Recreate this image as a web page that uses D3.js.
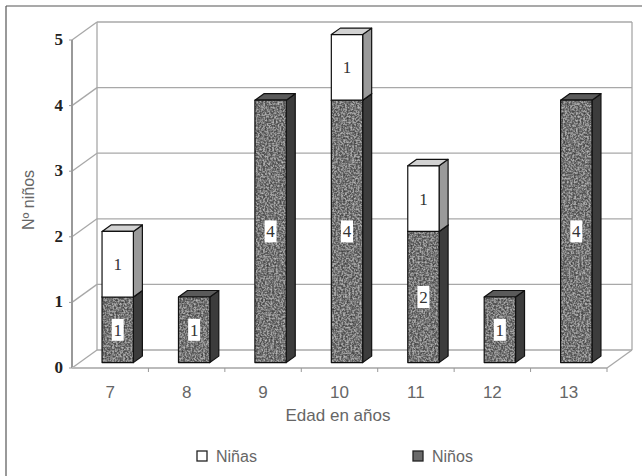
<!DOCTYPE html>
<html>
<head>
<meta charset="utf-8">
<script src="https://cdn.jsdelivr.net/npm/d3@7"></script>
<style>
  html, body { margin: 0; padding: 0; background: #fff; }
  svg { display: block; }
</style>
</head>
<body>
<svg id="chart" width="642" height="476"></svg>
<script>
// Ages (categories) and counts per group
const ages = ["7", "8", "9", "10", "11", "12", "13"];
const ninos = [1, 1, 4, 4, 2, 1, 4];
const ninas = [1, 0, 0, 1, 1, 0, 0];
const yTicks = [0, 1, 2, 3, 4, 5];
const seriesNames = ["Niñas", "Niños"];

const svg = d3.select("#chart");
const W = 642, H = 476;

// Front plane of the 3D box
const x = d3.scaleBand().domain(ages).range([72, 607]).padding(0);
const y = d3.scaleLinear().domain([0, 5]).range([368, 40]);
// Depth vector of the box (front -> back)
const DX = 25, DY = -18;

const defs = svg.append("defs");
// soft grainy texture for the dark bars
const f = defs.append("filter").attr("id", "grain").attr("x", 0).attr("y", 0).attr("width", 1).attr("height", 1)
  .attr("color-interpolation-filters", "sRGB");
f.append("feTurbulence").attr("type", "fractalNoise").attr("baseFrequency", 0.55).attr("numOctaves", 2).attr("seed", 3).attr("result", "noise");
f.append("feColorMatrix").attr("in", "noise").attr("type", "matrix")
  .attr("values", "0 0 0 0 0  0 0 0 0 0  0 0 0 0 0  1.1 0 0 0 -0.4").attr("result", "dark");
f.append("feColorMatrix").attr("in", "noise").attr("type", "matrix")
  .attr("values", "0 0 0 0 1  0 0 0 0 1  0 0 0 0 1  -1.1 0 0 0 0.62").attr("result", "light");
f.append("feComposite").attr("in", "dark").attr("in2", "SourceGraphic").attr("operator", "in").attr("result", "darkIn");
f.append("feComposite").attr("in", "light").attr("in2", "SourceGraphic").attr("operator", "in").attr("result", "lightIn");
f.append("feMerge").attr("result", "merged").selectAll("feMergeNode").data(["SourceGraphic", "darkIn", "lightIn"]).join("feMergeNode").attr("in", d => d);
f.append("feGaussianBlur").attr("in", "merged").attr("stdDeviation", 0.35);

// Outer frame (top and left edges)
svg.append("line").attr("x1", 6).attr("y1", 6).attr("x2", W).attr("y2", 6).attr("stroke", "#555").attr("stroke-width", 1.2);
svg.append("line").attr("x1", 6).attr("y1", 6).attr("x2", 6).attr("y2", H).attr("stroke", "#555").attr("stroke-width", 1.2);

const gridColor = "#a8a8a8";
const x0 = x.range()[0], x1 = x.range()[1];
const grid = svg.append("g").attr("stroke", gridColor).attr("stroke-width", 1.3).attr("fill", "none");

// Back wall horizontal gridlines and left wall diagonals
yTicks.forEach(t => {
  grid.append("line").attr("x1", x0 + DX).attr("x2", x1 + DX).attr("y1", y(t) + DY).attr("y2", y(t) + DY);
  grid.append("line").attr("x1", x0).attr("y1", y(t)).attr("x2", x0 + DX).attr("y2", y(t) + DY);
});
// Back corners
grid.append("line").attr("x1", x0 + DX).attr("x2", x0 + DX).attr("y1", y(5) + DY).attr("y2", y(0) + DY);
grid.append("line").attr("x1", x1 + DX).attr("x2", x1 + DX).attr("y1", y(5) + DY).attr("y2", y(0) + DY);
// Floor right edge
grid.append("line").attr("x1", x1).attr("y1", y(0)).attr("x2", x1 + DX).attr("y2", y(0) + DY);

// Front axes
svg.append("line").attr("x1", x0).attr("x2", x0).attr("y1", y(5)).attr("y2", y(0))
  .attr("stroke", "#999").attr("stroke-width", 2);
svg.append("line").attr("x1", x0).attr("x2", x1).attr("y1", y(0)).attr("y2", y(0))
  .attr("stroke", "#bbb").attr("stroke-width", 2);
// category boundary ticks
ages.forEach(a => {
  const xt = x(a) + x.bandwidth();
  svg.append("line").attr("x1", xt).attr("x2", xt).attr("y1", y(0)).attr("y2", y(0) + 4)
    .attr("stroke", "#999").attr("stroke-width", 1);
});
yTicks.forEach(t => {
  svg.append("line").attr("x1", x0 - 3).attr("x2", x0).attr("y1", y(t)).attr("y2", y(t))
    .attr("stroke", "#999").attr("stroke-width", 1);
});

// Y tick labels
svg.append("g").selectAll("text").data(yTicks).join("text")
  .attr("x", 63).attr("y", d => y(d) + 5)
  .attr("text-anchor", "end")
  .attr("font-family", "Liberation Serif, Times New Roman, serif")
  .attr("font-weight", "bold").attr("font-size", 17).attr("fill", "#222")
  .text(d => d);

// X category labels
svg.append("g").selectAll("text").data(ages).join("text")
  .attr("x", d => x(d) + x.bandwidth() / 2).attr("y", 398)
  .attr("text-anchor", "middle")
  .attr("font-family", "Liberation Sans, Arial, sans-serif")
  .attr("font-size", 17).attr("fill", "#666")
  .text(d => d);

// Axis titles
svg.append("text").attr("x", 338).attr("y", 421).attr("text-anchor", "middle")
  .attr("font-family", "Liberation Sans, Arial, sans-serif").attr("font-size", 17).attr("fill", "#666")
  .text("Edad en años");
svg.append("text").attr("transform", "translate(34,200) rotate(-90)").attr("text-anchor", "middle")
  .attr("font-family", "Liberation Sans, Arial, sans-serif").attr("font-size", 16).attr("fill", "#666")
  .text("Nº niños");

// Bars: stacked boxes (Niños below, Niñas on top)
const styles = {
  "Niños": { front: "#808080", side: "#3c3c3c", top: "#5a5a5a", grain: true },
  "Niñas": { front: "#ffffff", side: "#9a9a9a", top: "#d2d2d2", grain: false }
};
const bw = x.bandwidth() * 0.41;
const f0 = 0.3, fd = 0.36;           // position and thickness of bars in depth
const ox = DX * f0, oy = DY * f0;    // shift of bar front from the axis plane
const ddx = DX * fd, ddy = DY * fd;  // bar depth vector

const segments = [];
ages.forEach((a, i) => {
  segments.push({ age: a, name: "Niños", y0: 0, y1: ninos[i], v: ninos[i] });
  segments.push({ age: a, name: "Niñas", y0: ninos[i], y1: ninos[i] + ninas[i], v: ninas[i] });
});

const bars = svg.append("g");
segments.filter(s => s.v > 0).forEach(s => {
  const st = styles[s.name];
  const cx = x(s.age) + x.bandwidth() / 2 + ox;
  const L = cx - bw / 2, R = cx + bw / 2;
  const T = y(s.y1) + oy, B = y(s.y0) + oy;
  const g = bars.append("g").attr("stroke", "#111").attr("stroke-width", 1.2).attr("stroke-linejoin", "round");
  // side face
  g.append("path").attr("fill", st.side)
    .attr("d", `M${R},${T}L${R + ddx},${T + ddy}L${R + ddx},${B + ddy}L${R},${B}Z`);
  // top face
  g.append("path").attr("fill", st.top)
    .attr("d", `M${L},${T}L${L + ddx},${T + ddy}L${R + ddx},${T + ddy}L${R},${T}Z`);
  // front face
  const fr = g.append("rect").attr("x", L).attr("y", T).attr("width", bw).attr("height", B - T)
    .attr("fill", st.front);
  if (st.grain) {
    fr.attr("stroke", "none").attr("filter", "url(#grain)");
    g.append("rect").attr("x", L).attr("y", T).attr("width", bw).attr("height", B - T).attr("fill", "none");
  }
  // value label
  const my = (T + B) / 2;
  bars.append("rect").attr("x", cx - 6).attr("y", my - 11).attr("width", 12).attr("height", 22).attr("fill", "#fff");
  bars.append("text").attr("x", cx).attr("y", my + 6).attr("text-anchor", "middle")
    .attr("font-family", "Liberation Serif, Times New Roman, serif").attr("font-size", 17).attr("fill", "#333")
    .text(s.v);
});

// Legend
const legend = [
  { name: seriesNames[0], x: 197, fill: "#fff" },
  { name: seriesNames[1], x: 413, fill: "#6a6a6a" }
];
legend.forEach(l => {
  svg.append("rect").attr("x", l.x).attr("y", 451).attr("width", 10).attr("height", 10)
    .attr("fill", l.fill).attr("stroke", "#222").attr("stroke-width", 1.3);
  svg.append("text").attr("x", l.x + 19).attr("y", 462)
    .attr("font-family", "Liberation Sans, Arial, sans-serif").attr("font-size", 16).attr("fill", "#666")
    .text(l.name);
});
</script>
</body>
</html>
